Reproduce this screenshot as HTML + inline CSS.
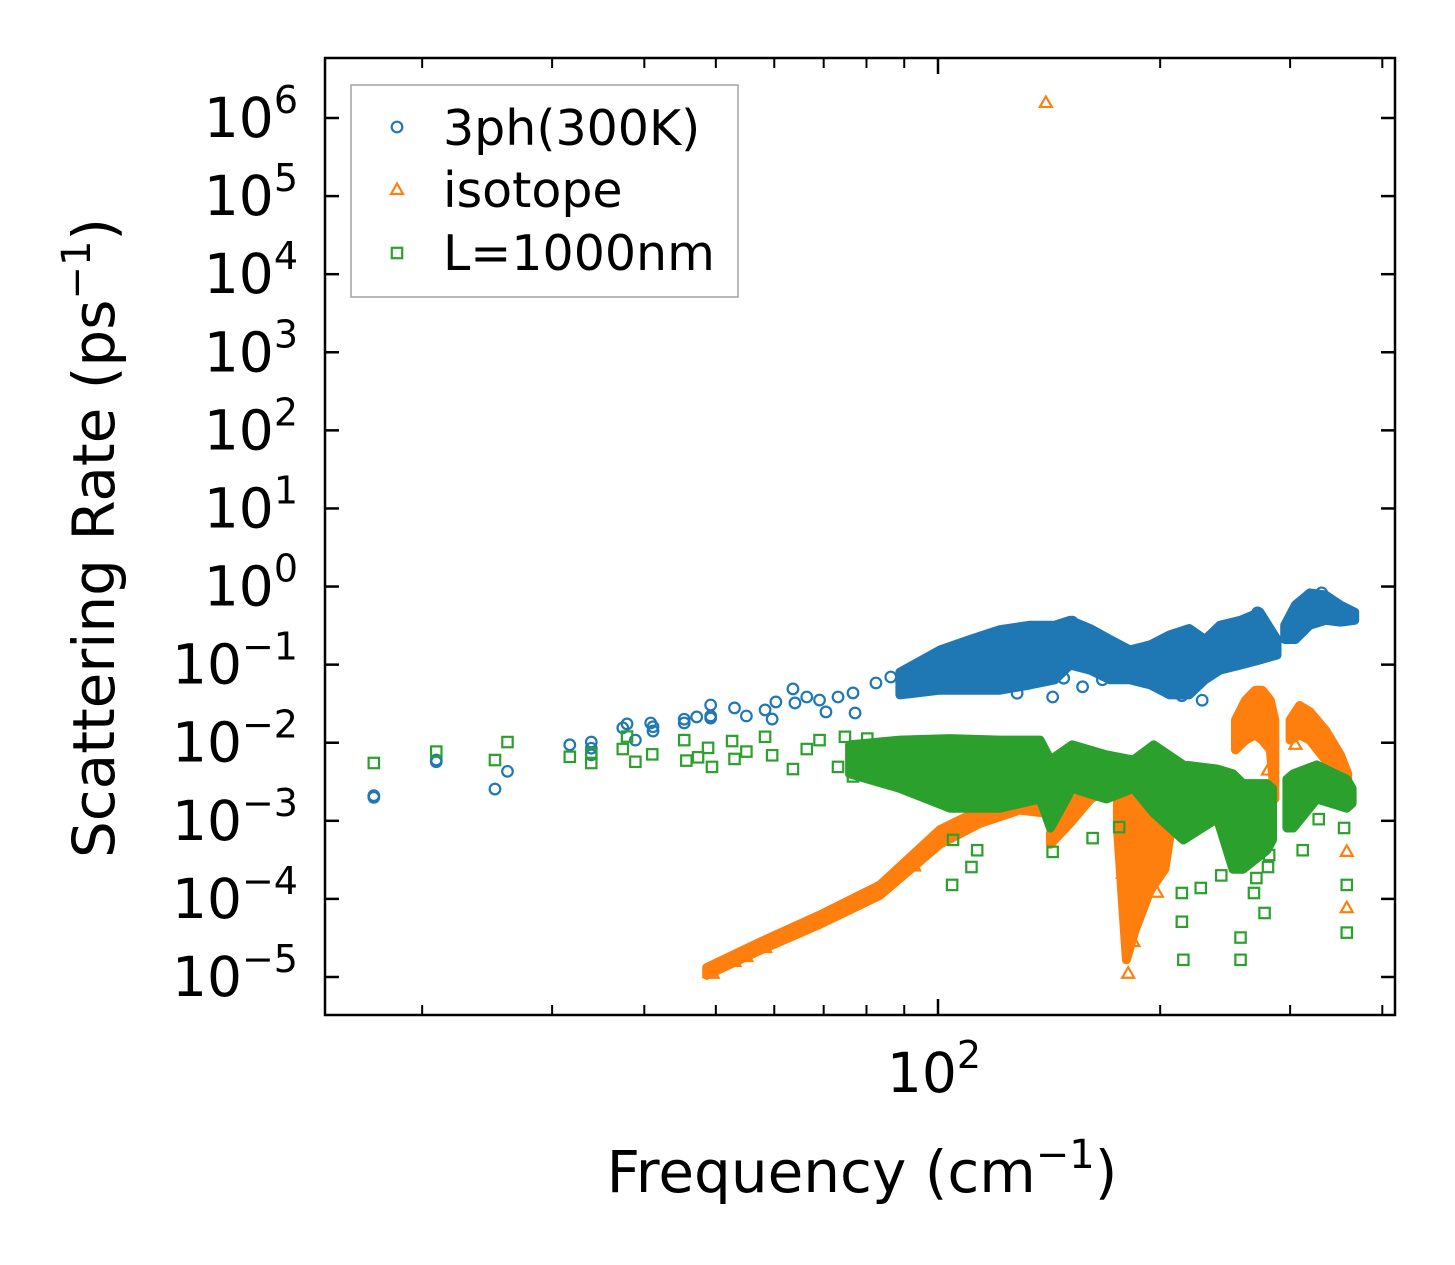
<!DOCTYPE html>
<html><head><meta charset="utf-8"><style>
body{margin:0;background:#fff}
svg text{font-family:"DejaVu Sans","Liberation Sans",sans-serif;fill:#000}
</style></head><body>
<svg id="chart" width="1455" height="1265" viewBox="0 0 1455 1265" xmlns="http://www.w3.org/2000/svg" style="position:absolute;left:0;top:0">
<rect width="1455" height="1265" fill="#fff"/>
<g id="plot"></g>
<g id="axes"></g>
</svg>
<script>
// ---- data ----
const yTickExps = [6,5,4,3,2,1,0,-1,-2,-3,-4,-5];
const xMinorTicks = [20,30,40,50,60,70,80,90,200,300,400];
const xMajorTicks = [100];
const bluePts = [[17.2,0.0020],[17.2,0.0021],[20.9,0.0060],[20.9,0.0057],[25.1,0.00255],[26.1,0.0043],[31.7,0.0094],[33.9,0.0102],[33.9,0.0085],[33.9,0.0070],[37.4,0.0155],[37.9,0.0174],[38.9,0.0108],[40.8,0.0179],[41.1,0.0141],[41.1,0.016],[45.3,0.0179],[45.3,0.02],[47.1,0.0214],[49.2,0.0304],[49.2,0.0207],[49.2,0.022],[53.0,0.0279],[55.0,0.022],[58.3,0.0263],[59.6,0.0201],[60.3,0.0333],[63.6,0.0488],[64.0,0.0323],[66.4,0.0385],[69.1,0.0352],[70.5,0.0248],[73.2,0.0385],[76.7,0.0434],[77.2,0.024],[82.4,0.0582],[86.3,0.0695],[90.6,0.0636],[95.1,0.0853],[97.2,0.0517],[128,0.043],[143,0.0385],[148,0.067],[157,0.052],[167,0.064],[214,0.040],[228,0.035],[152,0.35],[136,0.29],[271,0.46],[331,0.83]];
const blueBandFreq = [88.8,100.6,110.5,121.3,133.3,144,151,160.7,171,182,194,206,219,230,241,257,273,288];
const blueBandTop = [0.08,0.154,0.21,0.28,0.32,0.32,0.37,0.29,0.21,0.154,0.18,0.24,0.29,0.21,0.32,0.37,0.47,0.21];
const blueBandBot = [0.041,0.047,0.047,0.047,0.055,0.064,0.099,0.085,0.064,0.064,0.055,0.041,0.041,0.064,0.085,0.099,0.115,0.133];
const blueBand2Freq = [295,305,319,335,351,367];
const blueBand2Top = [0.32,0.58,0.83,0.78,0.58,0.47];
const blueBand2Bot = [0.21,0.21,0.32,0.37,0.35,0.37];

const orangePts = [[49.0,1.12e-5],[49.5,1.1e-5],[53.0,1.56e-5],[55.0,1.8e-5],[58.3,2.35e-5],[63.4,3.66e-5],[68.8,5.4e-5],[73.2,7.2e-5],[82.4,1.3e-4],[92.8,2.6e-4],[100.6,5.7e-4],[140,1.56e6],[257,0.0113],[305,0.0094],[280,0.0044],[358,7.6e-5],[358,4.0e-4],[178,2.1e-4],[181,1.1e-5],[184,2.8e-5],[198,1.2e-4],[178,4.0e-4]];
const orangeBands = [
 {freq:[48.6,57.4,69.1,83.4,100.6,114,129,140], top:[1.32e-5,2.8e-5,6.2e-5,1.5e-4,7.7e-4,1.37e-3,1.9e-3,1.9e-3], bot:[1.05e-5,2.2e-5,4.7e-5,1.11e-4,5.0e-4,9.3e-4,1.37e-3,1.25e-3]},
 {freq:[142,151,161,171], top:[7.0e-4,1.45e-3,3.4e-3,4.0e-3], bot:[5.0e-4,9.3e-4,1.9e-3,2.6e-3]},
 {freq:[175,180,185,194,203,207], top:[3.4e-3,2.6e-3,2.6e-3,1.9e-3,2.6e-3,1.9e-3], bot:[8.1e-4,1.66e-5,4.0e-5,1.3e-4,2.4e-4,8.1e-4]},
 {freq:[253,261,269,275,282,286], top:[0.0196,0.035,0.047,0.047,0.035,0.0196], bot:[0.0081,0.0108,0.0126,0.0108,0.0081,0.0019]},
 {freq:[300,309,319,335,351,359], top:[0.0196,0.030,0.025,0.0145,0.007,0.004], bot:[0.0108,0.0126,0.0108,0.006,0.0034,0.0026]}
];

const greenPts = [[17.2,0.0055],[20.9,0.0077],[25.1,0.006],[26.1,0.0102],[31.7,0.0066],[33.9,0.0055],[33.9,0.0073],[37.4,0.0083],[37.9,0.012],[38.9,0.0057],[41.0,0.0071],[45.3,0.0108],[45.6,0.0059],[47.3,0.0065],[48.8,0.0086],[49.4,0.0049],[52.6,0.0105],[53.0,0.0062],[55.0,0.0077],[58.3,0.0119],[59.6,0.0069],[63.6,0.0046],[66.4,0.0083],[69.1,0.0108],[73.2,0.0049],[74.8,0.0119],[80.2,0.0113],[76.7,0.0037],[104.5,1.51e-4],[111,2.56e-4],[113,4.2e-4],[104.8,5.7e-4],[143,4.0e-4],[162,6.0e-4],[176,8.3e-4],[215,1.66e-5],[214,5.1e-5],[214,1.19e-4],[227,1.38e-4],[242,2.0e-4],[257,1.66e-5],[257,3.2e-5],[268,1.19e-4],[277,6.6e-5],[358,3.7e-5],[358,1.51e-4],[355,8.1e-4],[328,1.05e-3],[312,4.2e-4],[280,2.56e-4],[281,3.65e-4],[270,1.85e-4]];
const greenBandFreq = [75.9,88.8,103.8,121.3,137.5,142,152,169,184,196,215,239,251,259,279,284];
const greenBandTop = [0.0094,0.0108,0.0113,0.0108,0.0108,0.006,0.0094,0.007,0.006,0.0094,0.0052,0.0046,0.004,0.003,0.003,0.0026];
const greenBandBot = [0.004,0.0026,0.00145,0.00145,0.0019,0.00081,0.0026,0.0019,0.0026,0.00125,0.00057,0.00107,0.00024,0.00024,0.00042,0.00057];
const greenBand2Freq = [297,303,326,358,364];
const greenBand2Top = [0.0034,0.004,0.0052,0.0034,0.0026];
const greenBand2Bot = [0.00081,0.00081,0.0019,0.00145,0.00167];

// ---- axes functions ----
const L=325,R=1395,T=58,B=1015;
const X = f => 938 + 738*(Math.log10(f)-2);
const Y = v => 118 + 78.09*(6-Math.log10(v));
const NS="http://www.w3.org/2000/svg";
const plot=document.getElementById('plot'), axes=document.getElementById('axes');
function mk(tag, attrs, parent){const e=document.createElementNS(NS,tag);for(const k in attrs)e.setAttribute(k,attrs[k]);parent.appendChild(e);return e;}
const C={blue:'#1f77b4',orange:'#ff7f0e',green:'#2ca02c'};

function band(freq, top, bot, color, name){
  const pts=[];
  for(let i=0;i<freq.length;i++)pts.push(X(freq[i]).toFixed(1)+','+Y(top[i]).toFixed(1));
  for(let i=freq.length-1;i>=0;i--)pts.push(X(freq[i]).toFixed(1)+','+Y(bot[i]).toFixed(1));
  const p=mk('polygon',{points:pts.join(' '),fill:color,stroke:color,'stroke-width':9,'stroke-linejoin':'round'},plot);
  
  
}
function circle(f,v){const c=mk('circle',{cx:X(f),cy:Y(v),r:5.3,fill:'none',stroke:C.blue,'stroke-width':2.2},plot);
  
  }
function tri(f,v){const x=X(f),y=Y(v);const t=mk('polygon',{points:`${x},${y-6.5} ${x-6},${y+4} ${x+6},${y+4}`,fill:'none',stroke:C.orange,'stroke-width':2.2},plot);
  
  }
function sq(f,v){const r=mk('rect',{x:X(f)-5.2,y:Y(v)-5.2,width:10.4,height:10.4,fill:'none',stroke:C.green,'stroke-width':2.2},plot);
  
  }

band(blueBandFreq,blueBandTop,blueBandBot,C.blue,'3ph-dense-band');
band(blueBand2Freq,blueBand2Top,blueBand2Bot,C.blue,'3ph-dense-band-high');
bluePts.forEach(p=>circle(p[0],p[1]));
orangeBands.forEach(b=>band(b.freq,b.top,b.bot,C.orange,'isotope-dense-band'));
orangePts.forEach(p=>tri(p[0],p[1]));
band(greenBandFreq,greenBandTop,greenBandBot,C.green,'boundary-dense-band');
band(greenBand2Freq,greenBand2Top,greenBand2Bot,C.green,'boundary-dense-band-high');
greenPts.forEach(p=>sq(p[0],p[1]));

// frame
const fr=mk('rect',{x:L,y:T,width:R-L,height:B-T,fill:'none',stroke:'#000','stroke-width':2.5},axes);



// y ticks
yTickExps.forEach(e=>{
  const y=Y(Math.pow(10,e));
  mk('line',{x1:L,x2:L+14,y1:y,y2:y,stroke:'#000','stroke-width':2.5},axes);
  mk('line',{x1:R,x2:R-14,y1:y,y2:y,stroke:'#000','stroke-width':2.5},axes);
  const t=mk('text',{x:298,y:y+19,'text-anchor':'end','font-size':55},axes);
  
  
  t.textContent='10';
  const s=mk('tspan',{dy:-24,'font-size':38},t);
  s.textContent=(e<0?'\u2212'+(-e):String(e));
});
// x ticks
xMinorTicks.forEach(f=>{const x=X(f);
  mk('line',{x1:x,x2:x,y1:B,y2:B-10,stroke:'#000','stroke-width':2},axes);
  mk('line',{x1:x,x2:x,y1:T,y2:T+10,stroke:'#000','stroke-width':2},axes);});
xMajorTicks.forEach(f=>{const x=X(f);
  mk('line',{x1:x,x2:x,y1:B,y2:B-16,stroke:'#000','stroke-width':2.5},axes);
  mk('line',{x1:x,x2:x,y1:T,y2:T+16,stroke:'#000','stroke-width':2.5},axes);
  const t=mk('text',{x:x-4,y:1092,'text-anchor':'middle','font-size':55},axes);
  
  
  t.textContent='10';
  const s=mk('tspan',{dy:-24,'font-size':38},t);s.textContent='2';
});
</script>
<svg style="position:absolute;left:0;top:0" width="1455" height="1265">
<text x="862" y="1192" text-anchor="middle" font-size="58" style="font-family:'DejaVu Sans','Liberation Sans',sans-serif">Frequency (cm<tspan dy="-24" font-size="40">−1</tspan><tspan dy="24">)</tspan></text>
<text transform="translate(114,538) rotate(-90)" text-anchor="middle" font-size="58" style="font-family:'DejaVu Sans','Liberation Sans',sans-serif">Scattering Rate (ps<tspan dy="-24" font-size="40">−1</tspan><tspan dy="24">)</tspan></text>
<g>
<rect x="351" y="85" width="387" height="212" fill="#fff" stroke="#999" stroke-width="1.5" opacity="0.9"/>
<g><circle cx="397" cy="127" r="5.3" fill="none" stroke="#1f77b4" stroke-width="2.2"/><text x="443" y="145" font-size="49" style="font-family:'DejaVu Sans','Liberation Sans',sans-serif">3ph(300K)</text></g>
<g><polygon points="397,183.5 391,194 403,194" fill="none" stroke="#ff7f0e" stroke-width="2.2"/><text x="443" y="207" font-size="49" style="font-family:'DejaVu Sans','Liberation Sans',sans-serif">isotope</text></g>
<g><rect x="391.8" y="247.8" width="10.4" height="10.4" fill="none" stroke="#2ca02c" stroke-width="2.2"/><text x="443" y="270" font-size="49" style="font-family:'DejaVu Sans','Liberation Sans',sans-serif">L=1000nm</text></g>
</g>
</svg>
</body></html>
